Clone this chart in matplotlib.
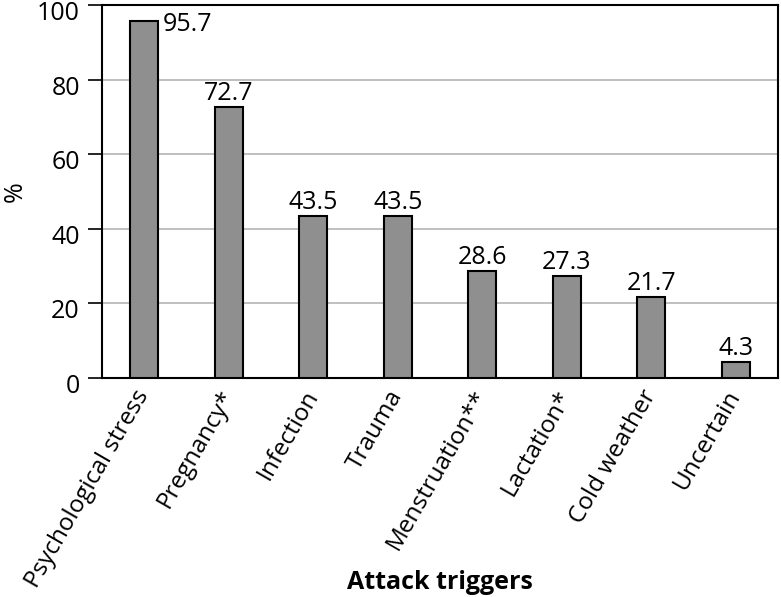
import numpy as np
import matplotlib.pyplot as plt
import matplotlib.transforms as mtransforms

plt.rcParams['font.family'] = ['Open Sans', 'DejaVu Sans']

categories = ["Psychological stress", "Pregnancy*", "Infection", "Trauma",
              "Menstruation**", "Lactation*", "Cold weather", "Uncertain"]
values = [95.7, 72.7, 43.5, 43.5, 28.6, 27.3, 21.7, 4.3]

fig = plt.figure(figsize=(7.81, 5.97), dpi=100)
ax = fig.add_axes([0.1306, 0.3668, 0.8654, 0.6248])

x = np.arange(len(categories))
ax.bar(x, values, width=0.33, color="#8f8f8f", edgecolor="black", linewidth=1.5, zorder=3)

for i, v in enumerate(values):
    if v > 90:
        ax.text(i + 0.22, v - 1, f"{v}", ha="left", va="center", fontsize=18)
    else:
        ax.text(i, v + 0.3, f"{v}", ha="center", va="bottom", fontsize=18)

ax.set_xlim(-0.5, 7.5)
ax.set_ylim(0, 100)
ax.set_yticks(np.arange(0, 101, 20))
ax.yaxis.grid(True, color="#b4b4b4", linewidth=1.2, zorder=0)
ax.set_xticks(x)
ax.set_xticklabels(categories, rotation=60, ha="right", va="center",
                   rotation_mode="anchor", fontsize=17.5)
ax.tick_params(axis="x", length=0, pad=10)
ax.tick_params(axis="y", labelsize=18, length=10, width=1.2, pad=6)
for s in ax.spines.values():
    s.set_linewidth(1.5)

# y tick labels sit a little below their ticks in the original
shift = mtransforms.ScaledTranslation(0, -4 / 72, fig.dpi_scale_trans)
for lab in ax.get_yticklabels():
    lab.set_transform(lab.get_transform() + shift)

ax.set_ylabel("%", fontsize=18)
ax.yaxis.set_label_coords(-0.11, 0.5)
fig.text(0.563, 0.013, "Attack triggers", ha="center", fontsize=18, fontweight="bold")

fig.savefig("out.png", dpi=100)
